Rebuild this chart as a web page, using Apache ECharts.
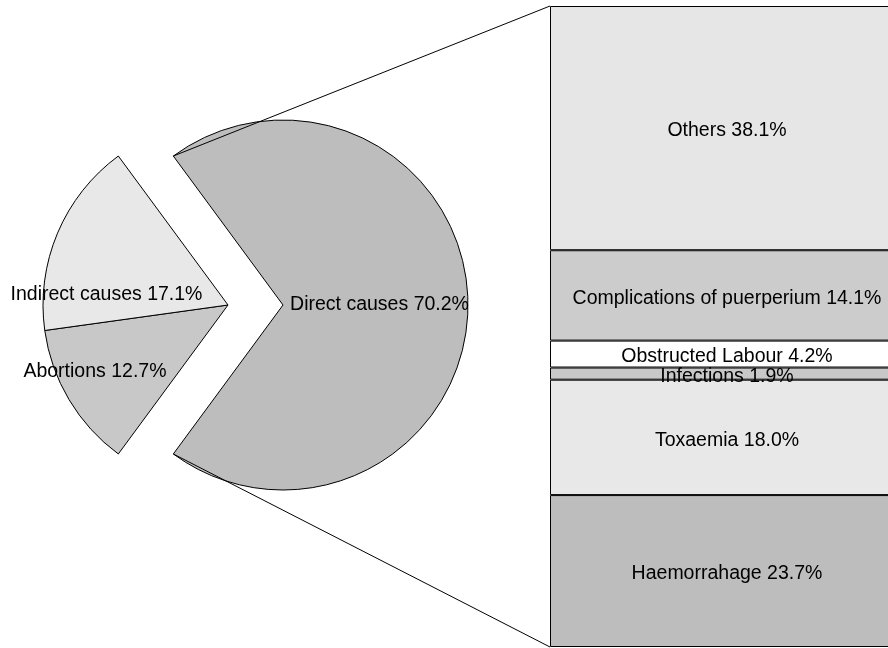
<!DOCTYPE html>
<html>
<head>
<meta charset="utf-8">
<title>Causes of maternal deaths</title>
<script src="https://cdn.jsdelivr.net/npm/echarts@6/dist/echarts.min.js"></script>
<style>
  html, body { margin: 0; padding: 0; background: #fff; }
  #chart { width: 888px; height: 648px; }
</style>
</head>
<body>
<div id="chart"></div>
<script>
// Main causes (pie), percentages of all maternal deaths
const pieNames = ['Direct causes', 'Abortions', 'Indirect causes'];
const pieValues = [70.2, 12.7, 17.1];

// Breakdown of direct causes (stacked bar), listed bottom to top
const barNames = ['Haemorrahage', 'Toxaemia', 'Infections', 'Obstructed Labour',
                  'Complications of puerperium', 'Others'];
const barValues = [23.7, 18.0, 1.9, 4.2, 14.1, 38.1];

// Styling
const pieColors = ['#bdbdbd', '#c8c8c8', '#e8e8e8'];
const barColors = ['#bdbdbd', '#e8e8e8', '#c8c8c8', '#ffffff', '#cccccc', '#e6e6e6'];
const FONT = '"Liberation Sans", Arial, sans-serif';
const FONT_SIZE = 19.5;

const PIE_CENTER = [228, 305];
const PIE_RADIUS = 185;
const EXPLODE = 55;
// label nudges for the pie slices (dx, dy), same order as pieNames
const pieLabelShift = [[1, 0], [-51, 18], [-33.5, 27]];

// bar panel placement
const BAR_BOX = { left: 550, top: 6, width: 354, height: 641 };

const pieTotal = pieValues.reduce((a, b) => a + b, 0);
const halfDirectDeg = pieValues[0] / pieTotal * 360 / 2;

const chart = echarts.init(document.getElementById('chart'), null, { renderer: 'canvas' });

const fmt = v => v.toFixed(1) + '%';

const barSeries = barNames.map((name, i) => ({
  type: 'bar',
  name: name,
  stack: 'direct',
  barWidth: '100%',
  silent: true,
  animation: false,
  data: [barValues[i]],
  itemStyle: { color: barColors[i], borderColor: '#000', borderWidth: 1 },
  label: {
    show: true,
    position: 'inside',
    offset: [0, 3],
    formatter: () => name + ' ' + fmt(barValues[i]),
    color: '#000',
    fontFamily: FONT,
    fontSize: FONT_SIZE
  },
  emphasis: { disabled: true }
}));

// Connector lines from the exploded slice's edges to the bar's left corners
function connectorGraphics() {
  const cx = PIE_CENTER[0] + EXPLODE;
  const cy = PIE_CENTER[1];
  const a = halfDirectDeg * Math.PI / 180;
  const ex = cx + PIE_RADIUS * Math.cos(a);
  const dy = PIE_RADIUS * Math.sin(a);
  const lineStyle = { stroke: '#000', lineWidth: 1 };
  return [
    { type: 'line', silent: true, z: 10,
      shape: { x1: ex, y1: cy - dy, x2: BAR_BOX.left, y2: BAR_BOX.top }, style: lineStyle },
    { type: 'line', silent: true, z: 10,
      shape: { x1: ex, y1: cy + dy, x2: BAR_BOX.left, y2: BAR_BOX.top + BAR_BOX.height }, style: lineStyle }
  ];
}

const option = {
  animation: false,
  backgroundColor: '#fff',
  grid: {
    left: BAR_BOX.left, top: BAR_BOX.top, width: BAR_BOX.width, height: BAR_BOX.height,
    containLabel: false, outerBoundsMode: 'none'
  },
  xAxis: { type: 'category', data: ['Direct causes'], show: false, boundaryGap: true },
  yAxis: { type: 'value', min: 0, max: 100, show: false },
  graphic: connectorGraphics(),
  series: [
    {
      type: 'pie',
      center: PIE_CENTER,
      radius: PIE_RADIUS,
      startAngle: halfDirectDeg,
      clockwise: true,
      selectedMode: 'multiple',
      selectedOffset: EXPLODE,
      silent: true,
      animation: false,
      avoidLabelOverlap: false,
      data: pieNames.map((n, i) => ({
        name: n,
        value: pieValues[i],
        selected: i === 0,
        itemStyle: { color: pieColors[i] }
      })),
      itemStyle: { borderColor: '#000', borderWidth: 1 },
      label: {
        show: true,
        position: 'inside',
        formatter: p => p.name + ' ' + fmt(p.value),
        color: '#000',
        fontFamily: FONT,
        fontSize: FONT_SIZE
      },
      labelLine: { show: false },
      labelLayout: p => ({ dx: pieLabelShift[p.dataIndex][0], dy: pieLabelShift[p.dataIndex][1] }),
      emphasis: { disabled: true }
    },
    ...barSeries
  ]
};

chart.setOption(option);
</script>
</body>
</html>
